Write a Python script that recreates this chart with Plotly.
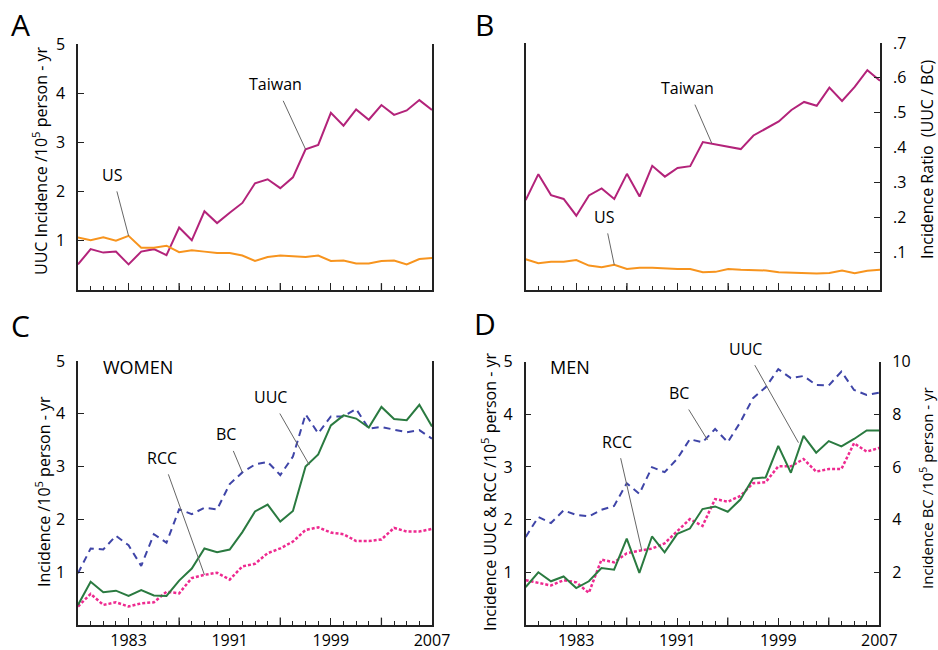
import plotly.graph_objects as go

years = list(range(1979, 2008))

# Panel A: UUC incidence per 10^5 person-yr
a_taiwan = [0.52, 0.83, 0.76, 0.78, 0.52, 0.78, 0.83, 0.71, 1.27, 1.01, 1.60, 1.36, 1.57, 1.77,
            2.17, 2.25, 2.07, 2.29, 2.86, 2.95, 3.60, 3.34, 3.67, 3.46, 3.76, 3.56, 3.65, 3.86, 3.66]
a_us = [1.07, 1.01, 1.07, 1.00, 1.10, 0.86, 0.86, 0.90, 0.77, 0.81, 0.78, 0.75, 0.75, 0.70,
        0.59, 0.67, 0.70, 0.68, 0.67, 0.70, 0.59, 0.60, 0.54, 0.54, 0.59, 0.60, 0.52, 0.63, 0.65]

# Panel B: incidence ratio UUC / BC
b_taiwan = [0.250, 0.324, 0.264, 0.253, 0.205, 0.263, 0.283, 0.253, 0.325, 0.260, 0.348, 0.317,
            0.342, 0.347, 0.416, 0.409, 0.403, 0.396, 0.435, 0.455, 0.475, 0.508, 0.531, 0.520,
            0.572, 0.534, 0.574, 0.622, 0.592]
b_us = [0.080, 0.069, 0.073, 0.073, 0.078, 0.062, 0.057, 0.064, 0.052, 0.056, 0.056, 0.053,
        0.052, 0.052, 0.043, 0.044, 0.052, 0.050, 0.050, 0.048, 0.043, 0.042, 0.042, 0.039,
        0.041, 0.048, 0.040, 0.047, 0.050]

# Panel C: women
c_uuc = [0.38, 0.82, 0.62, 0.65, 0.55, 0.66, 0.56, 0.55, 0.84, 1.07, 1.45, 1.38, 1.43, 1.76,
         2.15, 2.28, 1.96, 2.16, 3.00, 3.23, 3.78, 3.97, 3.91, 3.74, 4.13, 3.90, 3.88, 4.17, 3.76]
c_bc = [0.98, 1.45, 1.43, 1.69, 1.51, 1.12, 1.72, 1.56, 2.19, 2.10, 2.22, 2.19, 2.67, 2.89,
        3.04, 3.09, 2.84, 3.19, 3.99, 3.63, 3.95, 3.95, 4.09, 3.72, 3.75, 3.70, 3.65, 3.69, 3.53]
c_rcc = [0.35, 0.59, 0.38, 0.43, 0.35, 0.41, 0.43, 0.63, 0.60, 0.89, 0.95, 0.99, 0.86, 1.11,
         1.16, 1.36, 1.45, 1.58, 1.80, 1.85, 1.75, 1.72, 1.59, 1.59, 1.62, 1.84, 1.77, 1.77, 1.82]

# Panel D: men
d_uuc = [0.72, 1.00, 0.83, 0.92, 0.70, 0.83, 1.08, 1.05, 1.64, 0.99, 1.68, 1.38, 1.73, 1.83,
         2.20, 2.25, 2.15, 2.38, 2.78, 2.80, 3.40, 2.89, 3.59, 3.27, 3.49, 3.39, 3.53, 3.69, 3.69]
d_rcc = [0.85, 0.80, 0.75, 0.85, 0.81, 0.61, 1.24, 1.19, 1.36, 1.41, 1.45, 1.55, 1.78, 2.01,
         1.88, 2.39, 2.34, 2.45, 2.69, 2.71, 3.01, 3.01, 3.15, 2.91, 2.96, 2.96, 3.45, 3.29, 3.36]
d_bc = [3.34, 4.10, 3.87, 4.35, 4.18, 4.12, 4.37, 4.52, 5.38, 4.98, 5.99, 5.80, 6.31, 7.05,
        6.93, 7.44, 6.94, 7.70, 8.61, 9.02, 9.71, 9.37, 9.45, 9.11, 9.09, 9.62, 8.92, 8.73, 8.82]

label_years = [1983, 1991, 1999, 2007]
label_text = ["1983", "1991", "1999", "2007"]
mid_major_years = [1987, 1995, 2003]
a_ticks = [1, 2, 3, 4, 5]
b_ticks = [0.1, 0.2, 0.3, 0.4, 0.5, 0.6, 0.7]
b_ticktext = [".1", ".2", ".3", ".4", ".5", ".6", ".7"]
d_right_ticks = [2, 4, 6, 8, 10]

C_TAIWAN = "#B3237A"
C_US = "#F7941E"
C_UUC = "#2A7A40"
C_BC = "#3F45A8"
C_RCC = "#EE2A90"
FONT = "Open Sans"

W, H = 938, 650
def dx(p0, p1):
    return [p0 / W, p1 / W]
def dy(top, bottom):
    return [1 - bottom / H, 1 - top / H]

fig = go.Figure()
fig.add_trace(go.Scatter(x=years, y=a_taiwan, mode="lines", line=dict(color=C_TAIWAN, width=2),
                         xaxis="x", yaxis="y"))
fig.add_trace(go.Scatter(x=years, y=a_us, mode="lines", line=dict(color=C_US, width=2),
                         xaxis="x", yaxis="y"))
fig.add_trace(go.Scatter(x=years, y=b_taiwan, mode="lines", line=dict(color=C_TAIWAN, width=2),
                         xaxis="x2", yaxis="y2"))
fig.add_trace(go.Scatter(x=years, y=b_us, mode="lines", line=dict(color=C_US, width=2),
                         xaxis="x2", yaxis="y2"))
fig.add_trace(go.Scatter(x=years, y=c_bc, mode="lines", line=dict(color=C_BC, width=2, dash="7px,5px"),
                         xaxis="x3", yaxis="y3"))
fig.add_trace(go.Scatter(x=years, y=c_rcc, mode="lines", line=dict(color=C_RCC, width=2.5, dash="3px,2px"),
                         xaxis="x3", yaxis="y3"))
fig.add_trace(go.Scatter(x=years, y=c_uuc, mode="lines", line=dict(color=C_UUC, width=2),
                         xaxis="x3", yaxis="y3"))
fig.add_trace(go.Scatter(x=years, y=d_bc, mode="lines", line=dict(color=C_BC, width=2, dash="7px,5px"),
                         xaxis="x4", yaxis="y5"))
fig.add_trace(go.Scatter(x=years, y=d_rcc, mode="lines", line=dict(color=C_RCC, width=2.5, dash="3px,2px"),
                         xaxis="x4", yaxis="y4"))
fig.add_trace(go.Scatter(x=years, y=d_uuc, mode="lines", line=dict(color=C_UUC, width=2),
                         xaxis="x4", yaxis="y4"))

tickfont = dict(family=FONT, size=16, color="black")

def xax(domain, anchor, labels):
    d = dict(domain=domain, anchor=anchor, range=[1979, 2007], showgrid=False, zeroline=False,
             automargin=False,
             showline=True, linecolor="#222", linewidth=1.5,
             tickmode="array", tickvals=label_years,
             ticks="inside", ticklen=7, tickwidth=1.3, tickcolor="#222",
             showticklabels=labels, tickfont=tickfont, ticklabelstandoff=0,
             minor=dict(dtick=1, tick0=1979, ticks="inside", ticklen=4, tickwidth=1.2, tickcolor="#222"))
    if labels:
        d["ticktext"] = label_text
    return d

def yax(domain, anchor, rng, vals, text=None, side="left", mirror=True):
    d = dict(domain=domain, anchor=anchor, range=rng, showgrid=False, zeroline=False,
             automargin=False,
             showline=True, linecolor="#222", linewidth=1.5, mirror=mirror, side=side,
             tickmode="array", tickvals=vals, ticks="inside", ticklen=6, tickwidth=1.3, tickcolor="#222",
             tickfont=tickfont, ticklabelstandoff=8)
    if text is not None:
        d["ticktext"] = text
    return d

fig.update_layout(
    width=W, height=H, margin=dict(l=0, r=0, t=0, b=0, autoexpand=False),
    paper_bgcolor="white", plot_bgcolor="white", showlegend=False,
    font=dict(family=FONT, size=16, color="black"),
    xaxis=xax(dx(78, 432), "y", False),
    yaxis=yax(dy(44, 290), "x", [0, 5], a_ticks),
    xaxis2=xax(dx(525.7, 880), "y2", False),
    yaxis2=yax(dy(43, 290), "x2", [-0.008, 0.7], b_ticks, b_ticktext, side="right"),
    xaxis3=xax(dx(78, 432), "y3", True),
    yaxis3=yax(dy(361, 625), "x3", [0, 5], a_ticks),
    xaxis4=xax(dx(525.7, 879.3), "y4", True),
    yaxis4=yax(dy(361.5, 625), "x4", [0, 5], a_ticks, mirror=False),
    yaxis5=yax(dy(361.5, 625), "x4", [0, 10], d_right_ticks, side="right", mirror=False),
)
fig.layout.yaxis5.overlaying = "y4"

# taller (unlabelled) major ticks every 4 years
shapes = []
for xr, yr in [("x", "y"), ("x2", "y2"), ("x3", "y3"), ("x4", "y4")]:
    for yv in mid_major_years:
        shapes.append(dict(type="line", xref=xr, yref=yr + " domain", x0=yv, x1=yv,
                           y0=0, y1=0.028, line=dict(color="#222", width=1.3)))
fig.update_layout(shapes=shapes)

anns = []
def label(text, x, y, size=16, angle=0):
    anns.append(dict(text=text, x=x / W, y=1 - y / H, xref="paper", yref="paper", showarrow=False,
                     font=dict(family=FONT, size=size, color="black"), textangle=angle,
                     xanchor="center", yanchor="middle"))

label("A", 20, 24, 30)
label("B", 484, 24, 30)
label("C", 20, 325, 30)
label("D", 485, 323, 30)
label("UUC Incidence /10<sup>5</sup> person - yr", 40, 161, 16, -90)
label("Incidence Ratio  (UUC / BC)", 927, 159, 16, -90)
label("Incidence /10<sup>5</sup> person - yr", 43, 492, 16, -90)
label("Incidence UUC &amp; RCC /10<sup>5</sup> person - yr", 489, 492, 16, -90)
label("Incidence BC /10<sup>5</sup> person - yr", 926, 488, 15, -90)
label("WOMEN", 138, 367, 18)
label("MEN", 570, 367, 18)

def pointer(text, xr, yr, x, y, ax, ay):
    anns.append(dict(text=text, x=x, y=y, xref=xr, yref=yr, ax=ax, ay=ay, axref="pixel", ayref="pixel",
                     showarrow=True, arrowhead=0, arrowwidth=1, arrowcolor="#666", borderpad=5,
                     font=dict(family=FONT, size=16, color="black")))

pointer("Taiwan", "x", "y", 1997, a_taiwan[18], -30, -65)
pointer("US", "x", "y", 1983, a_us[4], -16, -61)
pointer("Taiwan", "x2", "y2", 1993.7, 0.413, -24, -55)
pointer("US", "x2", "y2", 1986, b_us[7], -10, -48)
pointer("UUC", "x3", "y3", 1997.3, 3.03, -39, -68)
pointer("BC", "x3", "y3", 1992, c_bc[13], -16, -38)
pointer("RCC", "x3", "y3", 1989, c_rcc[10], -42, -117)
pointer("UUC", "x4", "y4", 2000.6, 3.46, -53, -94)
pointer("BC", "x4", "y4", 1993.4, 3.51, -29, -47)
pointer("RCC", "x4", "y4", 1988.2, 1.41, -25, -109)

fig.update_layout(annotations=anns)
fig.write_html("out.html", config={"displayModeBar": False},
               post_script="document.body.style.margin='0';document.body.style.overflow='hidden';")
